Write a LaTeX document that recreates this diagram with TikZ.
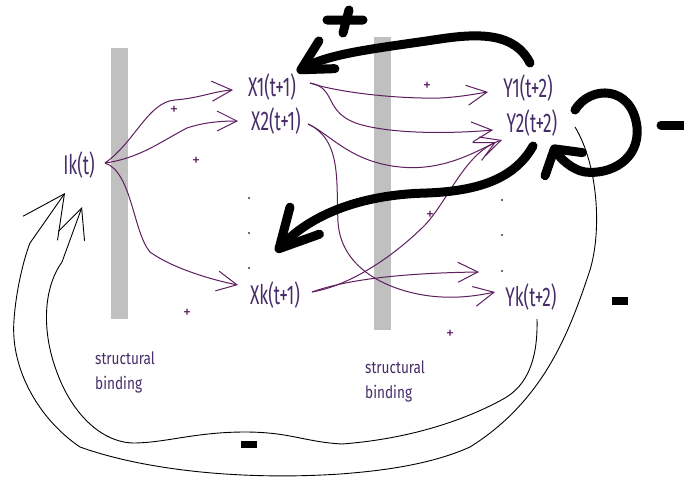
\documentclass[tikz,border=0pt]{standalone}
\usepackage{fontspec}
\setmainfont{Fira Sans}
\newfontfamily\lblfont[FakeStretch=0.64]{Fira Sans}
\newfontfamily\smlfont[FakeStretch=0.8]{Fira Sans}
\usetikzlibrary{arrows.meta}
\definecolor{purp}{RGB}{95,30,95}
\definecolor{txt}{RGB}{70,45,105}
\definecolor{barg}{RGB}{192,192,192}
\begin{document}
\begin{tikzpicture}[x=1pt,y=-1pt,
  lbl/.style={text=txt,font=\lblfont\fontsize{27}{27}\selectfont,inner sep=0pt},
  sml/.style={text=txt,font=\smlfont\fontsize{17}{25}\selectfont,align=left,inner sep=0pt},
  pls/.style={text=purp,font=\fontsize{16}{16}\selectfont,inner sep=0pt},
  pa/.style={draw=purp,line width=1pt,-{Straight Barb[length=20pt,width=20pt]}},
  fb/.style={draw=black,line width=0.9pt},
  heavy/.style={draw=black,line width=9pt,line cap=round,line join=round},
  dotm/.style={fill=txt}]
\fill[white] (0,0) rectangle (684,479);
\useasboundingbox (0,0) rectangle (684,479);
% structural bars
\fill[barg] (111,48) rectangle (128,319);
\fill[barg] (374,37) rectangle (391,330);
% labels
\node[lbl] (ik) at (79,165) {Ik(t)};
\node[lbl] (x1) at (272,87) {X1(t+1)};
\node[lbl] (x2) at (276,121) {X2(t+1)};
\node[lbl] (xk) at (275,295) {Xk(t+1)};
\node[lbl] (y1) at (528,88) {Y1(t+2)};
\node[lbl] (y2) at (532,123) {Y2(t+2)};
\node[lbl] (yk) at (531,297) {Yk(t+2)};
\node[sml,anchor=north west] (sb1) at (95,352) {structural\\binding};
\node[sml,anchor=north west] (sb2) at (365,361) {structural\\binding};
% dots
\fill[dotm] (249,198) circle (1.2) (249,233) circle (1.2) (249,268) circle (1.2);
\fill[dotm] (502,200) circle (1.2) (502,235) circle (1.2) (502,271) circle (1.2);
% small plus signs
\node[pls] (p1) at (174,110) {+};
\node[pls] (p2) at (196,161) {+};
\node[pls] (p3) at (187,313) {+};
\node[pls] (p4) at (427,86) {+};
\node[pls] (p5) at (430,215) {+};
\node[pls] (p6) at (450,334) {+};
% connector end points
\coordinate (ikO) at (105,163);
\coordinate (x1in) at (233,90);
\coordinate (x2in) at (238,121);
\coordinate (xkin) at (238,285);
\coordinate (x1O) at (310,83);
\coordinate (x2O) at (308,124);
\coordinate (xkO) at (312,292);
\coordinate (y1in) at (488,92);
\coordinate (y2inA) at (493,130);
\coordinate (y2inB) at (496,142);
\coordinate (y2inC) at (502,140);
\coordinate (ykinA) at (479,272);
\coordinate (ykinB) at (495,292);
% purple arrows
\draw[pa] (ikO) .. controls (135,142) and (148,102) .. (175,100) .. controls (200,98) and (215,91) .. (x1in);
\draw[pa] (ikO) .. controls (140,158) and (160,142) .. (187,128) .. controls (205,122) and (222,121) .. (x2in);
\draw[pa] (ikO) .. controls (132,172) and (133,232) .. (150,252) .. controls (172,268) and (212,280) .. (xkin);
\draw[pa] (x1O) .. controls (340,93) and (400,99) .. (440,98) .. controls (460,97) and (475,94) .. (y1in);
\draw[pa] (x1O) .. controls (338,88) and (322,114) .. (362,125) .. controls (400,135) and (460,133) .. (y2inA);
\draw[pa] (x2O) .. controls (330,134) and (350,162) .. (400,167) .. controls (440,171) and (470,155) .. (y2inB);
\draw[pa] (x2O) .. controls (342,140) and (336,182) .. (338,222) .. controls (341,270) and (390,291) .. (430,296) .. controls (455,299) and (476,296) .. (ykinB);
\draw[pa] (xkO) .. controls (352,285) and (395,255) .. (425,225) .. controls (450,198) and (465,152) .. (y2inC);
\draw[pa] (xkO) .. controls (345,280) and (400,273) .. (ykinA);
% thin black feedback loops
\coordinate (y2fb) at (575,127);
\coordinate (ykfb) at (537,319);
\coordinate (ikinA) at (65,193);
\coordinate (ikinB) at (82,207);
\draw[fb,-{Straight Barb[length=42pt,width=42pt]}] (y2fb) .. controls (598,165) and (602,230) .. (590,270) .. controls (570,330) and (545,400) .. (470,447) .. controls (430,465) and (380,471) .. (340,474) .. controls (250,480) and (150,472) .. (80,447) .. controls (40,420) and (10,370) .. (14,320) .. controls (16,290) and (24,258) .. (30,243) -- (ikinA);
\draw[fb,-{Straight Barb[length=30pt,width=28pt]}] (ykfb) .. controls (538,360) and (527,385) .. (505,398) .. controls (475,415) and (420,438) .. (342,444) .. controls (305,442) and (290,432) .. (245,432) .. controls (195,432) and (165,443) .. (133,443) .. controls (100,442) and (72,412) .. (58,375) .. controls (42,335) and (42,290) .. (62,262) -- (ikinB);
% heavy black arrows
\coordinate (y1top) at (530,63);
\coordinate (x1tip) at (297,72);
\coordinate (y2bot) at (533,146);
\coordinate (xktip) at (276,252);
\coordinate (y2r) at (575,110);
\coordinate (y2loop) at (552,145);
\draw[heavy,-{Straight Barb[round,length=30pt,width=32pt]}] (y1top) .. controls (515,33) and (480,33) .. (440,39) .. controls (380,48) and (330,53) .. (x1tip);
\draw[heavy,-{Straight Barb[round,length=38pt,width=40pt]}] (y2bot) .. controls (515,178) and (480,191) .. (427,193) .. controls (340,195) and (298,228) .. (xktip);
\draw[heavy,-{Straight Barb[round,length=18pt,width=44pt]}] (y2r) .. controls (590,85) and (632,85) .. (637,127) .. controls (640,160) and (610,175) .. (585,172) .. controls (572,170) and (560,158) .. (y2loop);
% signs
\draw[heavy] (327,20) -- (363,20) (349,10) -- (343,33);
\draw[heavy] (661,125) -- (692,125);
\fill[black] (612,297) rectangle (628,305);
\fill[black] (241,441) rectangle (257,448);
\end{tikzpicture}
\end{document}
